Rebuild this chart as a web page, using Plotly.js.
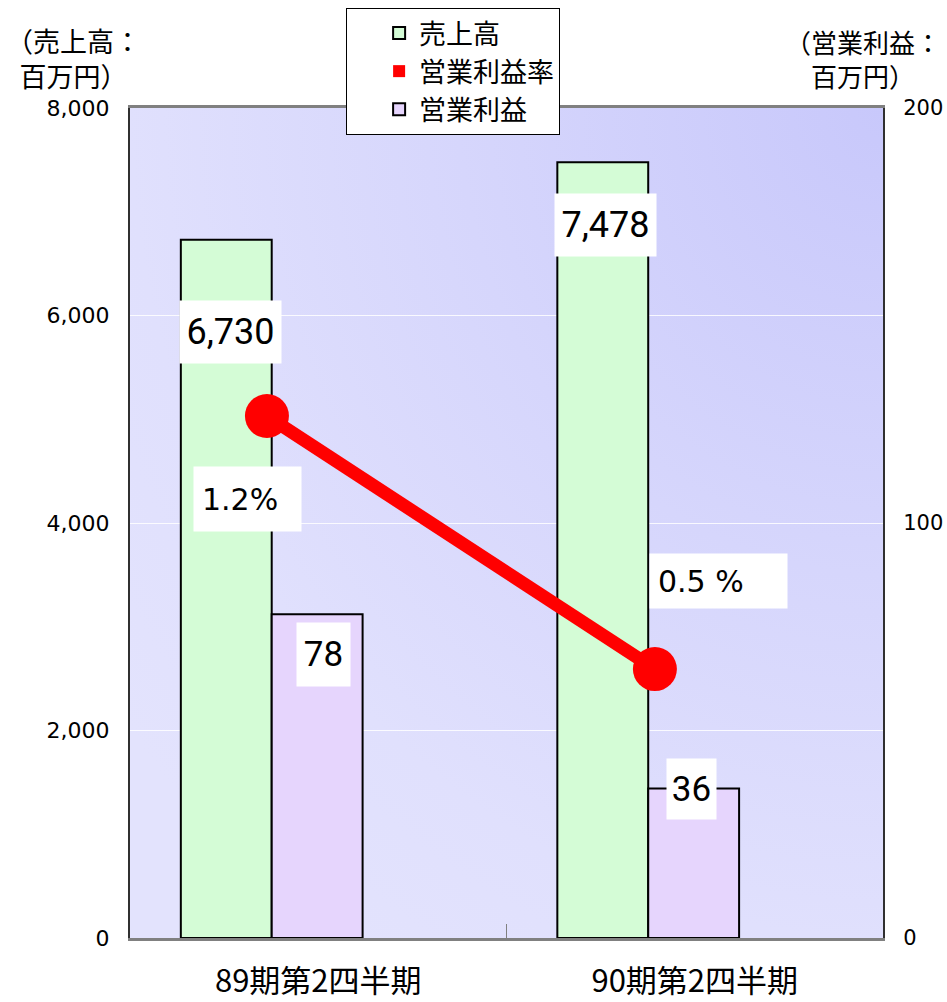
<!DOCTYPE html>
<html>
<head>
<meta charset="utf-8">
<script src="https://cdn.plot.ly/plotly-3.0.1.min.js"></script>
<style>
  html, body { margin: 0; padding: 0; background: #ffffff; }
  #chart { width: 947px; height: 1002px; }
</style>
</head>
<body>
<div id="chart"></div>
<script>
// ---- data ----
const categories = ['89期第2四半期', '90期第2四半期'];
const sales = [6730, 7478];            // 売上高 (百万円, left axis)
const operatingProfit = [78, 36];      // 営業利益 (百万円, right axis)
const profitRate = [1.2, 0.5];         // 営業利益率 (%)
const salesLabels = ['6,730', '7,478'];
const profitLabels = ['78', '36'];
const rateLabels = ['1.2%', '0.5 %'];
const leftTicks = [0, 2000, 4000, 6000, 8000];
const rightTicks = [0, 100, 200];

const FONT = '"Noto Sans CJK JP", "Noto Sans", sans-serif';
const LABEL_FONT = 'Roboto, "Noto Sans CJK JP", sans-serif';
const TICK_FONT = '"DejaVu Sans", "Noto Sans CJK JP", sans-serif';

const bgSvg = '<svg xmlns="http://www.w3.org/2000/svg" width="100" height="100" preserveAspectRatio="none">' +
  '<defs><radialGradient id="g" cx="1" cy="0" r="1.25" fx="1" fy="0" gradientUnits="objectBoundingBox">' +
  '<stop offset="0" stop-color="#c8c8fb"/><stop offset="0.45" stop-color="#d6d6fc"/><stop offset="0.8" stop-color="#e0e0fd"/><stop offset="1" stop-color="#e3e3fd"/>' +
  '</radialGradient></defs><rect width="100" height="100" fill="url(#g)"/></svg>';
const bgUrl = 'data:image/svg+xml;charset=utf-8,' + encodeURIComponent(bgSvg);

const traces = [
  {
    type: 'bar', name: '売上高', x: categories, y: sales,
    xaxis: 'x', yaxis: 'y',
    width: 0.2414, offset: -0.365,
    marker: { color: '#d4fcd6', line: { color: '#000000', width: 2 } },
    hoverinfo: 'skip'
  },
  {
    type: 'bar', name: '営業利益率', x: categories, y: profitRate.map(() => null),
    xaxis: 'x', yaxis: 'y',
    marker: { color: '#ff0000', line: { color: '#ff0000', width: 0 } },
    hoverinfo: 'skip'
  },
  {
    type: 'bar', name: '営業利益', x: categories, y: operatingProfit,
    xaxis: 'x', yaxis: 'y2',
    width: 0.2414, offset: -0.1236,
    marker: { color: '#e6d5fd', line: { color: '#000000', width: 2 } },
    hoverinfo: 'skip'
  },
  {
    type: 'scatter', mode: 'lines+markers', name: '営業利益率',
    x: categories, y: profitRate, xaxis: 'x2', yaxis: 'y3',
    showlegend: false,
    line: { color: '#ff0000', width: 13 },
    marker: { color: '#ff0000', size: 44 },
    hoverinfo: 'skip'
  }
];

const annotations = [];
const salesShift = [[-88, -92], [-89.5, -63]];
categories.forEach((c, i) => {
  annotations.push({
    x: c, y: sales[i], xref: 'x', yref: 'y', text: salesLabels[i],
    showarrow: false, xshift: salesShift[i][0], yshift: salesShift[i][1],
    width: 99, height: 60, bgcolor: '#ffffff',
    font: { family: LABEL_FONT, size: 36, color: '#000000' }
  });
});
const profitShift = [[5, -40], [-3.5, 0]];
const profitBox = [[51, 61], [47, 58]];
categories.forEach((c, i) => {
  annotations.push({
    x: c, y: operatingProfit[i], xref: 'x', yref: 'y2', text: profitLabels[i],
    showarrow: false, xshift: profitShift[i][0], yshift: profitShift[i][1],
    width: profitBox[i][0], height: profitBox[i][1], bgcolor: '#ffffff',
    font: { family: LABEL_FONT, size: 35, color: '#000000' }
  });
});
const rateShift = [[-19.5, -83], [63.5, 88]];
const rateBox = [[91, 48], [121, 38]];
categories.forEach((c, i) => {
  annotations.push({
    x: c, y: profitRate[i], xref: 'x2', yref: 'y3', text: rateLabels[i],
    showarrow: false, xshift: rateShift[i][0], yshift: rateShift[i][1],
    width: rateBox[i][0], height: rateBox[i][1], bgcolor: '#ffffff',
    borderpad: 8, align: 'left',
    font: { family: TICK_FONT, size: 30, color: '#000000' }
  });
});
annotations.push({
  xref: 'paper', yref: 'paper', x: -0.0744, y: 1.06,
  xanchor: 'center', yanchor: 'middle',
  text: '（売上高：<br>百万円）', showarrow: false, align: 'center',
  font: { family: FONT, size: 27, color: '#000000' }
});
annotations.push({
  xref: 'paper', yref: 'paper', x: 0.974, y: 1.06,
  xanchor: 'center', yanchor: 'middle',
  text: '（営業利益：<br>百万円）', showarrow: false, align: 'center',
  font: { family: FONT, size: 26, color: '#000000' }
});

const layout = {
  width: 947, height: 1002,
  margin: { l: 130, r: 64, t: 108, b: 64, pad: 0, autoexpand: false },
  paper_bgcolor: '#ffffff',
  plot_bgcolor: 'rgba(0,0,0,0)',
  barmode: 'overlay',
  showlegend: true,
  legend: {
    x: 0.287, y: 1.1205, xanchor: 'left', yanchor: 'top',
    bgcolor: '#ffffff', bordercolor: '#000000', borderwidth: 1,
    font: { family: FONT, size: 27, color: '#000000' },
    traceorder: 'normal', indentation: 32, itemwidth: 30
  },
  images: [{
    source: bgUrl, xref: 'paper', yref: 'paper', x: 0, y: 1,
    sizex: 1, sizey: 1, xanchor: 'left', yanchor: 'top',
    sizing: 'stretch', layer: 'below'
  }],
  xaxis: {
    type: 'category', range: [-0.5, 1.5],
    showline: true, linecolor: '#808080', linewidth: 3, mirror: true,
    ticks: 'inside', tickson: 'boundaries', ticklen: 14, tickcolor: '#808080', tickwidth: 1,
    tickfont: { family: FONT, size: 31, color: '#000000' },
    ticklabelstandoff: 14, automargin: false,
    showgrid: false, zeroline: false, fixedrange: true
  },
  xaxis2: {
    type: 'category', overlaying: 'x', visible: false,
    range: [-0.353, 1.588], fixedrange: true
  },
  yaxis: {
    range: [0, 8000], tickvals: leftTicks, tickformat: ',d',
    showline: true, linecolor: '#303030', linewidth: 2,
    ticks: '', ticklabelstandoff: 14, automargin: false,
    tickfont: { family: TICK_FONT, size: 22, color: '#000000' },
    showgrid: true, gridcolor: 'rgba(255,255,255,0.85)', gridwidth: 1,
    zeroline: false, fixedrange: true
  },
  yaxis2: {
    range: [0, 200], tickvals: rightTicks, overlaying: 'y', side: 'right',
    showline: true, linecolor: '#303030', linewidth: 2,
    ticks: '', ticklabelstandoff: 14, automargin: false,
    tickfont: { family: TICK_FONT, size: 21, color: '#000000' },
    showgrid: false, zeroline: false, fixedrange: true
  },
  yaxis3: {
    range: [-0.244, 2.052], overlaying: 'y', visible: false, fixedrange: true
  },
  annotations: annotations
};

Plotly.newPlot('chart', traces, layout, { displayModeBar: false, staticPlot: true });
</script>
</body>
</html>
